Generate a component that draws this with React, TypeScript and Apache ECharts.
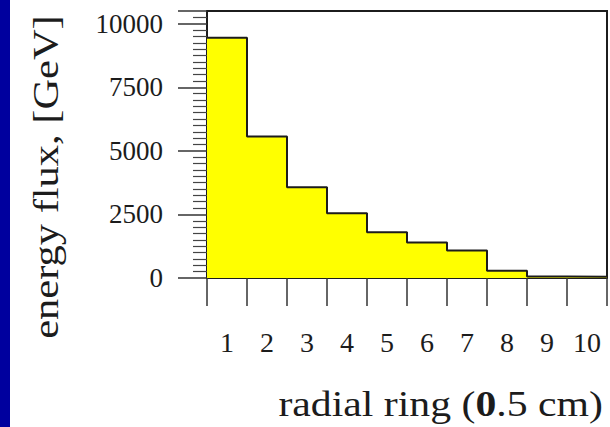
import React, { useEffect, useRef } from "react";
import * as echarts from "echarts";

// Ring index labels (each ring is 0.5 cm wide)
const rings = ["1", "2", "3", "4", "5", "6", "7", "8", "9", "10"];
// Energy flux deposited in each radial ring, GeV
const flux = [9450, 5560, 3570, 2550, 1800, 1400, 1080, 290, 60, 50];
// Y-axis labelled ticks
const yTicks = [0, 2500, 5000, 7500, 10000];

const SERIF = "'Liberation Serif', 'DejaVu Serif', serif";
const INK = "#1c1c1c";

export default function App() {
  const ref = useRef<HTMLDivElement>(null);

  useEffect(() => {
    document.body.style.margin = "0";
    const chart = echarts.init(ref.current!, null, { renderer: "svg" });

    // Histogram outline: value at each bin's left edge, closed at the right edge
    const steps: number[][] = flux.map((v, i) => [i, v]);
    steps.push([flux.length, flux[flux.length - 1]]);

    chart.setOption({
      animation: false,
      backgroundColor: "#ffffff",
      grid: {
        left: 207,
        right: 3,
        top: 11,
        bottom: 149,
        show: true,
        borderColor: INK,
        borderWidth: 2,
        backgroundColor: "transparent",
      },
      xAxis: [
        {
          type: "category",
          data: rings,
          boundaryGap: true,
          axisLine: { show: true, lineStyle: { color: INK, width: 2 } },
          axisTick: { show: true, inside: false, length: 28, alignWithLabel: false, lineStyle: { color: "#333", width: 1.5 } },
          axisLabel: { margin: 50, fontFamily: SERIF, fontSize: 28, color: INK },
          splitLine: { show: false },
        },
        {
          type: "value",
          min: 0,
          max: rings.length,
          show: false,
        },
      ],
      yAxis: {
        type: "value",
        min: 0,
        max: 10500,
        interval: 2500,
        axisLine: { show: true, lineStyle: { color: INK, width: 2 } },
        axisTick: { show: true, inside: false, length: 29, lineStyle: { color: "#333", width: 1.5 } },
        minorTick: { show: true, splitNumber: 10, length: 14, lineStyle: { color: "#444", width: 1.2 } },
        splitLine: { show: false },
        minorSplitLine: { show: false },
        axisLabel: {
          margin: 44,
          fontFamily: SERIF,
          fontSize: 27,
          color: INK,
          formatter: (v: number) => (yTicks.includes(v) ? String(v) : ""),
        },
      },
      series: [
        {
          type: "line",
          xAxisIndex: 1,
          data: steps,
          step: "end",
          showSymbol: false,
          symbol: "none",
          lineStyle: { color: INK, width: 2 },
          areaStyle: { color: "#ffff00", opacity: 1 },
        },
      ],
      graphic: [
        { type: "rect", shape: { x: 0, y: 0, width: 10, height: 427 }, style: { fill: "#00009e" } },
        {
          type: "text",
          x: 46,
          y: 177,
          rotation: Math.PI / 2,
          scaleX: 1.18,
          style: {
            text: "energy flux, [GeV]",
            font: `36px ${SERIF}`,
            fill: INK,
            textAlign: "center",
            textVerticalAlign: "middle",
          },
        },
        {
          type: "text",
          x: 603,
          y: 404,
          scaleX: 1.16,
          style: {
            text: "{n|radial ring (}{b|0}{n|.5 cm)}",
            textAlign: "right",
            textVerticalAlign: "middle",
            rich: {
              n: { font: `36px ${SERIF}`, fill: INK },
              b: { font: `bold 36px ${SERIF}`, fill: INK },
            },
          },
        },
      ],
    });

    return () => chart.dispose();
  }, []);

  return <div ref={ref} style={{ width: 610, height: 427 }} />;
}
